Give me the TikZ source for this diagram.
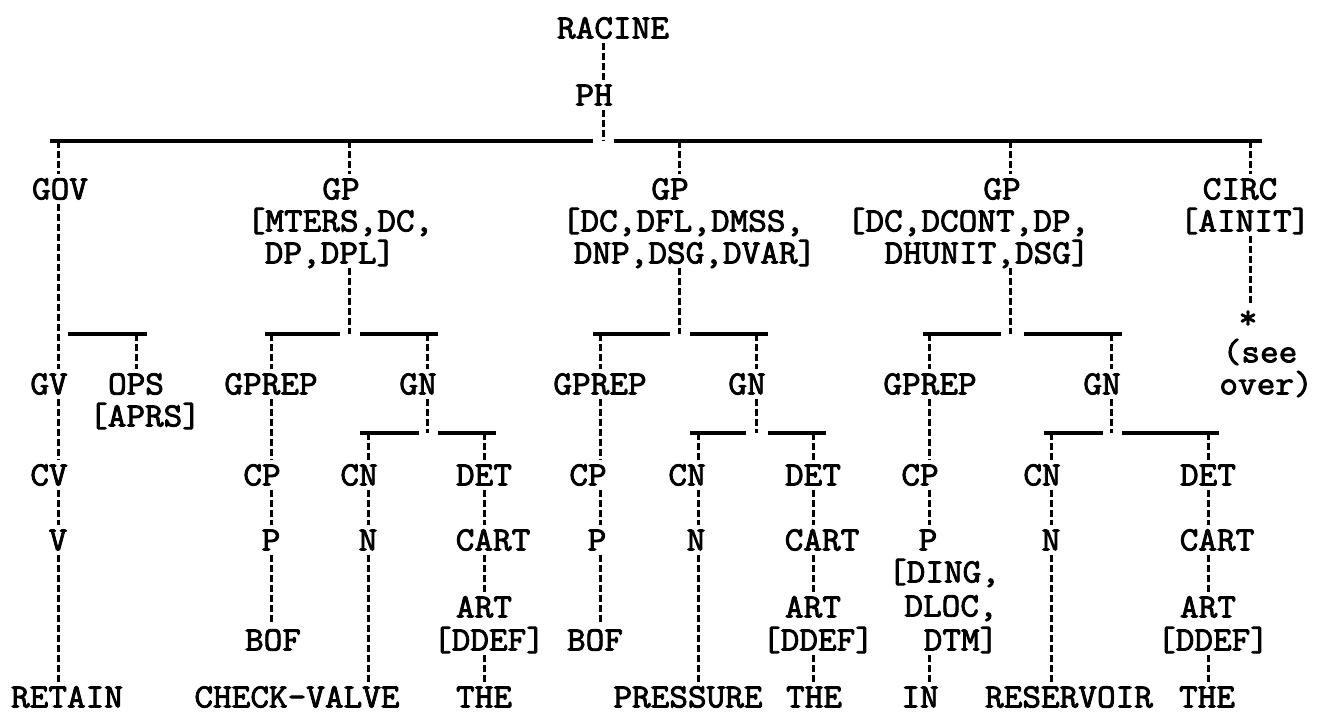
\documentclass[tikz,border=0pt]{standalone}
\usepackage{fontspec}
\newfontfamily\tw{Latin Modern Mono}[FakeBold=2.5,FakeStretch=1.065]
\begin{document}
\begin{tikzpicture}[x=0.5pt,y=-0.5pt,
  lab/.style={font=\tw\fontsize{17pt}{20pt}\selectfont, inner sep=0pt, outer sep=2.5pt, text height=10.4pt, text depth=0pt},
  dl/.style={line width=1.5pt, dash pattern=on 3.5pt off 1.5pt},
  hb/.style={line width=1.8pt}]
\useasboundingbox[fill=white] (0,0) rectangle (1318,718);

% ---------- nodes ----------
\node[lab] (racine) at (613,28) {RACINE};
\node[lab] (ph) at (594,95) {PH};

\node[lab] (gov) at (60,189) {GOV};
\node[lab] (gp1) at (341,189) {GP};
\node[lab] (gp1b) at (340,221) {[MTERS,DC,};
\node[lab] (gp1c) at (330,253) {DP,DPL]};
\node[lab] (gp2) at (670,189) {GP};
\node[lab] (gp2b) at (683,221) {[DC,DFL,DMSS,};
\node[lab] (gp2c) at (695,253) {DNP,DSG,DVAR]};
\node[lab] (gp3) at (1002,189) {GP};
\node[lab] (gp3b) at (968,221) {[DC,DCONT,DP,};
\node[lab] (gp3c) at (987,253) {DHUNIT,DSG]};
\node[lab] (circ) at (1240,189) {CIRC};
\node[lab] (ainit) at (1245,221) {[AINIT]};
\node[lab] (star) at (1248,318) {*};

\node[lab] (gv) at (49,384) {GV};
\node[lab] (ops) at (136,384) {OPS};
\node[lab] (aprs) at (145,416) {[APRS]};
\node[lab] (gprep1) at (271,384) {GPREP};
\node[lab] (gn1) at (418,384) {GN};
\node[lab] (gprep2) at (600,384) {GPREP};
\node[lab] (gn2) at (747,384) {GN};
\node[lab] (gprep3) at (930,384) {GPREP};
\node[lab] (gn3) at (1102,384) {GN};
\node[lab] (see) at (1260,352) {(see};
\node[lab] (over) at (1266,384) {over)};

\node[lab] (cv) at (49,475) {CV};
\node[lab] (cp1) at (262,475) {CP};
\node[lab] (cn1) at (359,475) {CN};
\node[lab] (det1) at (484,475) {DET};
\node[lab] (cp2) at (588,475) {CP};
\node[lab] (cn2) at (687,475) {CN};
\node[lab] (det2) at (813,475) {DET};
\node[lab] (cp3) at (920,475) {CP};
\node[lab] (cn3) at (1042,475) {CN};
\node[lab] (det3) at (1208,475) {DET};

\node[lab] (v) at (58,540) {V};
\node[lab] (p1) at (271,540) {P};
\node[lab] (n1) at (368,540) {N};
\node[lab] (cart1) at (493,540) {CART};
\node[lab] (p2) at (597,540) {P};
\node[lab] (n2) at (696,540) {N};
\node[lab] (cart2) at (822,540) {CART};
\node[lab] (p3) at (928,540) {P};
\node[lab] (n3) at (1051,540) {N};
\node[lab] (cart3) at (1217,540) {CART};

\node[lab] (ding) at (944,572) {[DING,};
\node[lab] (dloc) at (951,606) {DLOC,};
\node[lab] (dtm) at (961,640) {DTM]};

\node[lab] (art1) at (484,607) {ART};
\node[lab] (ddef1) at (489,640) {[DDEF]};
\node[lab] (art2) at (813,607) {ART};
\node[lab] (ddef2) at (818,640) {[DDEF]};
\node[lab] (art3) at (1208,607) {ART};
\node[lab] (ddef3) at (1213,640) {[DDEF]};
\node[lab] (bof1) at (273,640) {BOF};
\node[lab] (bof2) at (595,640) {BOF};

\node[lab] (retain) at (67,697) {RETAIN};
\node[lab] (checkvalve) at (297,697) {CHECK-VALVE};
\node[lab] (the1) at (484,697) {THE};
\node[lab] (pressure) at (688,697) {PRESSURE};
\node[lab] (the2) at (814,697) {THE};
\node[lab] (win) at (920,697) {IN};
\node[lab] (reservoir) at (1069,697) {RESERVOIR};
\node[lab] (the3) at (1207,697) {THE};

% ---------- junction coordinates ----------
\coordinate (m0) at (603,141);
\coordinate (kgov) at (58,141);
\coordinate (kgp1) at (349,141);
\coordinate (kgp2) at (679,141);
\coordinate (kgp3) at (1010,141);
\coordinate (kcirc) at (1250,141);

\coordinate (kops) at (136,334);
\coordinate (j1) at (349,334);
\coordinate (kgprep1) at (271,334);
\coordinate (kgn1) at (427,334);
\coordinate (j2) at (679,334);
\coordinate (kgprep2) at (600,334);
\coordinate (kgn2) at (756,334);
\coordinate (j3) at (1010,334);
\coordinate (kgprep3) at (929,334);
\coordinate (kgn3) at (1111,334);

\coordinate (g1) at (427,433);
\coordinate (kcn1) at (368,433);
\coordinate (kdet1) at (484,433);
\coordinate (g2) at (756,433);
\coordinate (kcn2) at (698,433);
\coordinate (kdet2) at (813,433);
\coordinate (g3) at (1111,433);
\coordinate (kcn3) at (1051,433);
\coordinate (kdet3) at (1208,433);

% ---------- horizontal bars ----------
\draw[hb] (50,141) -- (593,141);
\draw[hb] (614,141) -- (1262,141);
\draw[hb] (68,334) -- (147,334);
\draw[hb] (265,334) -- (340,334);
\draw[hb] (360,334) -- (438,334);
\draw[hb] (593,334) -- (670,334);
\draw[hb] (690,334) -- (768,334);
\draw[hb] (923,334) -- (1001,334);
\draw[hb] (1024,334) -- (1122,334);
\draw[hb] (360,433) -- (419,433);
\draw[hb] (438,433) -- (496,433);
\draw[hb] (690,433) -- (746,433);
\draw[hb] (768,433) -- (826,433);
\draw[hb] (1044,433) -- (1103,433);
\draw[hb] (1122,433) -- (1219,433);

% ---------- dashed connectors ----------
\draw[dl] (racine.south -| m0) -- (ph.north -| m0);
\draw[dl] (ph.south -| m0) -- (m0);
\draw[dl] (kgov) -- (gov.north -| kgov);
\draw[dl] (kgp1) -- (gp1.north -| kgp1);
\draw[dl] (kgp2) -- (gp2.north -| kgp2);
\draw[dl] (kgp3) -- (gp3.north -| kgp3);
\draw[dl] (kcirc) -- (circ.north -| kcirc);
\draw[dl] (ainit.south -| kcirc) -- (star.north -| kcirc);

\draw[dl] (gov.south -| kgov) -- (gv.north -| kgov);
\draw[dl] (kops) -- (ops.north -| kops);
\draw[dl] (gp1c.south -| j1) -- (j1);
\draw[dl] (kgprep1) -- (gprep1.north -| kgprep1);
\draw[dl] (kgn1) -- (gn1.north -| kgn1);
\draw[dl] (gp2c.south -| j2) -- (j2);
\draw[dl] (kgprep2) -- (gprep2.north -| kgprep2);
\draw[dl] (kgn2) -- (gn2.north -| kgn2);
\draw[dl] (gp3c.south -| j3) -- (j3);
\draw[dl] (kgprep3) -- (gprep3.north -| kgprep3);
\draw[dl] (kgn3) -- (gn3.north -| kgn3);

\draw[dl] (gn1.south -| g1) -- (g1);
\draw[dl] (kcn1) -- (cn1.north -| kcn1);
\draw[dl] (kdet1) -- (det1.north -| kdet1);
\draw[dl] (gn2.south -| g2) -- (g2);
\draw[dl] (kcn2) -- (cn2.north -| kcn2);
\draw[dl] (kdet2) -- (det2.north -| kdet2);
\draw[dl] (gn3.south -| g3) -- (g3);
\draw[dl] (kcn3) -- (cn3.north -| kcn3);
\draw[dl] (kdet3) -- (det3.north -| kdet3);

\draw[dl] (gv.south -| kgov) -- (cv.north -| kgov);
\draw[dl] (cv.south -| kgov) -- (v.north -| kgov);
\draw[dl] (v.south -| kgov) -- (retain.north -| kgov);

\draw[dl] (gprep1.south -| kgprep1) -- (cp1.north -| kgprep1);
\draw[dl] (cp1.south -| kgprep1) -- (p1.north -| kgprep1);
\draw[dl] (p1.south -| kgprep1) -- (bof1.north -| kgprep1);
\draw[dl] (cn1.south -| kcn1) -- (n1.north -| kcn1);
\draw[dl] (n1.south -| kcn1) -- (checkvalve.north -| kcn1);
\draw[dl] (det1.south -| kdet1) -- (cart1.north -| kdet1);
\draw[dl] (cart1.south -| kdet1) -- (art1.north -| kdet1);
\draw[dl] (ddef1.south -| kdet1) -- (the1.north -| kdet1);

\draw[dl] (gprep2.south -| kgprep2) -- (cp2.north -| kgprep2);
\draw[dl] (cp2.south -| kgprep2) -- (p2.north -| kgprep2);
\draw[dl] (p2.south -| kgprep2) -- (bof2.north -| kgprep2);
\draw[dl] (cn2.south -| kcn2) -- (n2.north -| kcn2);
\draw[dl] (n2.south -| kcn2) -- (pressure.north -| kcn2);
\draw[dl] (det2.south -| kdet2) -- (cart2.north -| kdet2);
\draw[dl] (cart2.south -| kdet2) -- (art2.north -| kdet2);
\draw[dl] (ddef2.south -| kdet2) -- (the2.north -| kdet2);

\draw[dl] (gprep3.south -| kgprep3) -- (cp3.north -| kgprep3);
\draw[dl] (cp3.south -| kgprep3) -- (p3.north -| kgprep3);
\draw[dl] (dtm.south -| kgprep3) -- (win.north -| kgprep3);
\draw[dl] (cn3.south -| kcn3) -- (n3.north -| kcn3);
\draw[dl] (n3.south -| kcn3) -- (reservoir.north -| kcn3);
\draw[dl] (det3.south -| kdet3) -- (cart3.north -| kdet3);
\draw[dl] (cart3.south -| kdet3) -- (art3.north -| kdet3);
\draw[dl] (ddef3.south -| kdet3) -- (the3.north -| kdet3);
\end{tikzpicture}
\end{document}
